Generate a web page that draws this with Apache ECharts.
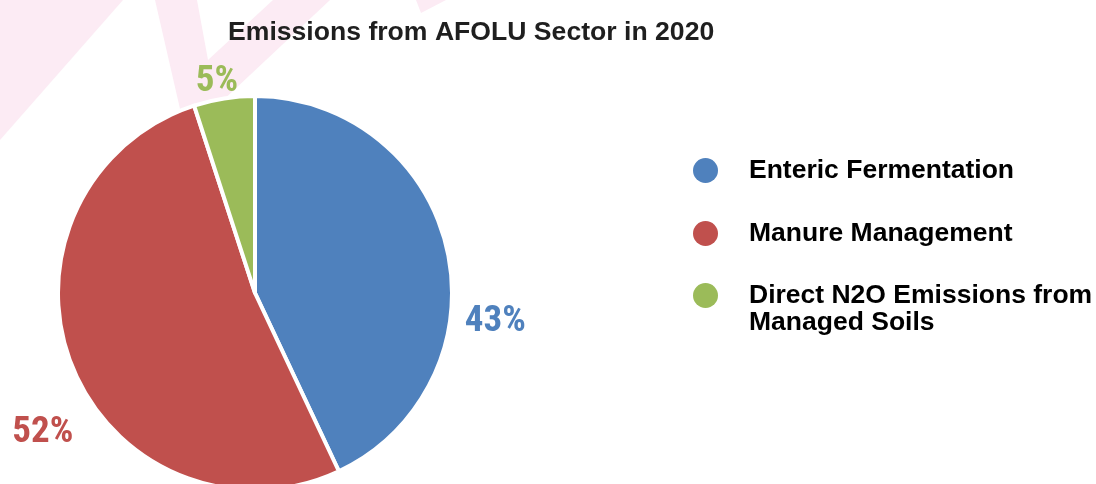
<!DOCTYPE html>
<html>
<head>
<meta charset="utf-8">
<style>
  html, body { margin: 0; padding: 0; background: #ffffff; }
  #chart { width: 1096px; height: 484px; }
</style>
<script src="https://cdn.jsdelivr.net/npm/echarts@6/dist/echarts.min.js"></script>
</head>
<body>
<div id="chart"></div>
<script>
// Emission sources and their share of the AFOLU total (percent)
const categories = [
  'Enteric Fermentation',
  'Manure Management',
  'Direct N2O Emissions from Managed Soils'
];
const shares = [43, 52, 5];
const sliceColors = ['#4f81bd', '#c0504d', '#9bbb59'];

// Nudge for each percentage label away from its default outside spot
const labelOffsets = [[-7, 76], [25, 60], [22, 3]];

const chart = echarts.init(document.getElementById('chart'), null, { renderer: 'canvas' });

const labelFont = '"Roboto Condensed", "Open Sans Condensed", "Liberation Sans", sans-serif';
const textFont = '"Liberation Sans", Arial, Helvetica, sans-serif';

const pieData = categories.map((name, i) => ({
  name,
  value: shares[i],
  itemStyle: { color: sliceColors[i] },
  label: { color: sliceColors[i], offset: labelOffsets[i] }
}));

const legendText = {
  color: '#000000',
  fontFamily: textFont,
  fontWeight: 'bold',
  fontSize: 26.5,
  lineHeight: 27
};

const legendCommon = {
  orient: 'vertical',
  left: 693,
  padding: 0,
  itemWidth: 77,
  itemHeight: 25,
  icon: 'circle',
  selectedMode: false,
  itemStyle: { borderWidth: 0 },
  textStyle: legendText
};

chart.setOption({
  backgroundColor: '#ffffff',
  animation: false,
  title: {
    text: 'Emissions from AFOLU Sector in 2020',
    left: 228,
    top: 19,
    padding: 0,
    textStyle: {
      color: '#1f1f1f',
      fontFamily: textFont,
      fontWeight: 'bold',
      fontSize: 26.6
    }
  },
  // faint decorative bands behind the chart
  graphic: [
    {
      type: 'polygon', z: -10, silent: true,
      shape: { points: [[0, 0], [123, 0], [0, 140]] },
      style: { fill: '#fcebf4' }
    },
    {
      type: 'polygon', z: -10, silent: true,
      shape: { points: [[155, 0], [197, 0], [208, 60], [273, 0], [330, 0], [186, 135]] },
      style: { fill: '#fcebf4' }
    },
    {
      type: 'polygon', z: -10, silent: true,
      shape: { points: [[416, 0], [446, 0], [421, 13]] },
      style: { fill: '#fcebf4' }
    }
  ],
  legend: [
    Object.assign({}, legendCommon, {
      top: 157,
      itemGap: 36,
      data: categories.slice(0, 2)
    }),
    Object.assign({}, legendCommon, {
      top: 255,
      // leading blank line keeps the icon level with the first text line
      formatter: name => ' \n' + name.replace(' from ', ' from\n'),
      data: categories.slice(2)
    })
  ],
  series: [
    {
      type: 'pie',
      center: [255, 293],
      radius: 197,
      startAngle: 90,
      clockwise: true,
      avoidLabelOverlap: false,
      itemStyle: { borderColor: '#ffffff', borderWidth: 4 },
      label: {
        show: true,
        position: 'outside',
        formatter: '{c}%',
        fontFamily: labelFont,
        fontWeight: 'bold',
        fontSize: 37
      },
      labelLine: { show: false, length: 20, length2: 0 },
      emphasis: { disabled: true },
      data: pieData
    }
  ]
});
</script>
</body>
</html>
